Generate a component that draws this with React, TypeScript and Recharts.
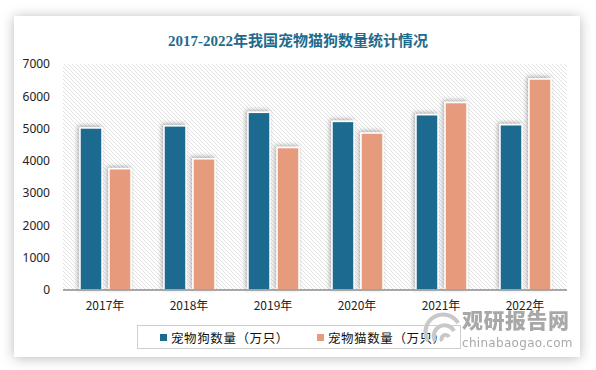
import React from "react";
import { BarChart, Bar, XAxis, YAxis, CartesianGrid, Legend } from "recharts";

const years = ["2017年", "2018年", "2019年", "2020年", "2021年", "2022年"];
const dogCounts = [5019, 5085, 5503, 5222, 5429, 5119];
const catCounts = [3756, 4064, 4412, 4862, 5806, 6536];
const yTicks = [0, 1000, 2000, 3000, 4000, 5000, 6000, 7000];

const DOG_NAME = "宠物狗数量（万只）";
const CAT_NAME = "宠物猫数量（万只）";
const DOG_COLOR = "#1c6b8f";
const CAT_COLOR = "#e69b7b";

const data = years.map((year, i) => ({
  year,
  dog: dogCounts[i],
  cat: catCounts[i],
}));

const ShadowBar = (props: any) => {
  const { x, y, width, height, fill } = props;
  if (!height || height <= 0) return null;
  return (
    <rect
      x={x}
      y={y}
      width={width}
      height={height}
      fill={fill}
      stroke="#ffffff"
      strokeWidth={1.5}
      filter="url(#barShadow)"
    />
  );
};

const LegendBox = () => (
  <div
    style={{
      boxSizing: "border-box",
      width: 324,
      height: 24,
      border: "1px solid #cfcfcf",
      display: "flex",
      alignItems: "center",
      fontFamily: "'Noto Sans CJK SC', 'Noto Sans', sans-serif",
      fontSize: 12.5,
      letterSpacing: 0.6,
      color: "#111",
    }}
  >
    {[
      { name: DOG_NAME, color: DOG_COLOR },
      { name: CAT_NAME, color: CAT_COLOR },
    ].map((item, i) => (
      <div key={item.name} style={{ display: "flex", alignItems: "center", marginLeft: i === 0 ? 22 : 28 }}>
        <span style={{ display: "inline-block", width: 7, height: 7, background: item.color, marginRight: 4 }} />
        <span>{item.name}</span>
      </div>
    ))}
  </div>
);

const Watermark = () => (
  <div style={{ position: "absolute", left: 422, top: 305, width: 160, height: 50, pointerEvents: "none" }}>
    <svg width={44} height={40} style={{ position: "absolute", left: 0, top: 6 }}>
      <g fill="none" stroke="#c8c8c8" strokeWidth={4}>
        <path d="M6 30 A16 16 0 0 1 36 12" />
        <path d="M13 30 A10 10 0 0 1 32 20" />
        <path d="M20 30 A4 4 0 0 1 27 26" />
      </g>
    </svg>
    <div
      style={{
        position: "absolute",
        left: 40,
        top: 0,
        fontFamily: "'Noto Sans CJK SC', sans-serif",
        fontWeight: 900,
        fontSize: 21,
        letterSpacing: 0.5,
        color: "#9a9a9a",
        opacity: 0.85,
        lineHeight: "28px",
      }}
    >
      观研报告网
    </div>
    <div
      style={{
        position: "absolute",
        left: 40,
        top: 30,
        fontFamily: "'DejaVu Sans', sans-serif",
        fontSize: 12,
        letterSpacing: 0.3,
        color: "#9a9a9a",
        opacity: 0.85,
        lineHeight: "16px",
      }}
    >
      chinabaogao.com
    </div>
  </div>
);

export default function App() {
  return (
    <div style={{ position: "absolute", left: 0, top: 0, width: 596, height: 370, background: "#ffffff", overflow: "hidden" }}>
      <div
        style={{
          position: "absolute",
          left: 14,
          top: 16,
          width: 566,
          height: 341,
          background: "#ffffff",
          boxShadow: "0 1px 12px rgba(0,0,0,0.28)",
        }}
      />
      <div
        style={{
          position: "absolute",
          left: 0,
          top: 30,
          width: 596,
          textAlign: "center",
          fontFamily: "'Liberation Serif', 'Noto Sans CJK SC', serif",
          fontWeight: "bold",
          fontSize: 15,
          color: "#1e6b8e",
          lineHeight: "22px",
        }}
      >
        2017-2022年我国宠物猫狗数量统计情况
      </div>
      <div style={{ position: "absolute", left: 0, top: 0 }}>
        <BarChart
          width={596}
          height={370}
          data={data}
          margin={{ top: 64, right: 29, bottom: 50, left: 0 }}
          barGap={7}
          barSize={22}
        >
          <defs>
            <pattern id="hatch" patternUnits="userSpaceOnUse" width={4} height={4}>
              <path d="M-1,-1 L5,5 M-1,3 L1,5 M3,-1 L5,1" stroke="#d6d6d6" strokeWidth={0.7} />
            </pattern>
            <filter id="barShadow" x="-40%" y="-10%" width="180%" height="120%">
              <feDropShadow dx={-1.5} dy={-1.5} stdDeviation={2} floodColor="#000000" floodOpacity={0.3} />
            </filter>
          </defs>
          <CartesianGrid horizontal={false} vertical={false} fill="url(#hatch)" stroke="none" />
          <XAxis
            dataKey="year"
            axisLine={{ stroke: "#8c8c8c", strokeWidth: 1.5 }}
            tickLine={false}
            tickSize={0}
            tickMargin={11}
            height={30}
            interval={0}
            tick={{ fill: "#222", fontSize: 12, fontFamily: "'Noto Sans CJK SC', 'Noto Sans', sans-serif" }}
          />
          <YAxis
            width={63}
            domain={[0, 7000]}
            ticks={yTicks}
            axisLine={false}
            tickLine={false}
            tickSize={0}
            tickMargin={13}
            tick={{ fill: "#222", fontSize: 12, fontFamily: "'Noto Sans', sans-serif" }}
          />
          <Legend
            verticalAlign="middle"
            layout="horizontal"
            wrapperStyle={{ position: "absolute", top: 325, left: 137, width: 324, height: 24 }}
            content={() => <LegendBox />}
          />
          <Bar dataKey="dog" name={DOG_NAME} fill={DOG_COLOR} shape={ShadowBar} isAnimationActive={false} />
          <Bar dataKey="cat" name={CAT_NAME} fill={CAT_COLOR} shape={ShadowBar} isAnimationActive={false} />
        </BarChart>
      </div>
      <Watermark />
    </div>
  );
}
